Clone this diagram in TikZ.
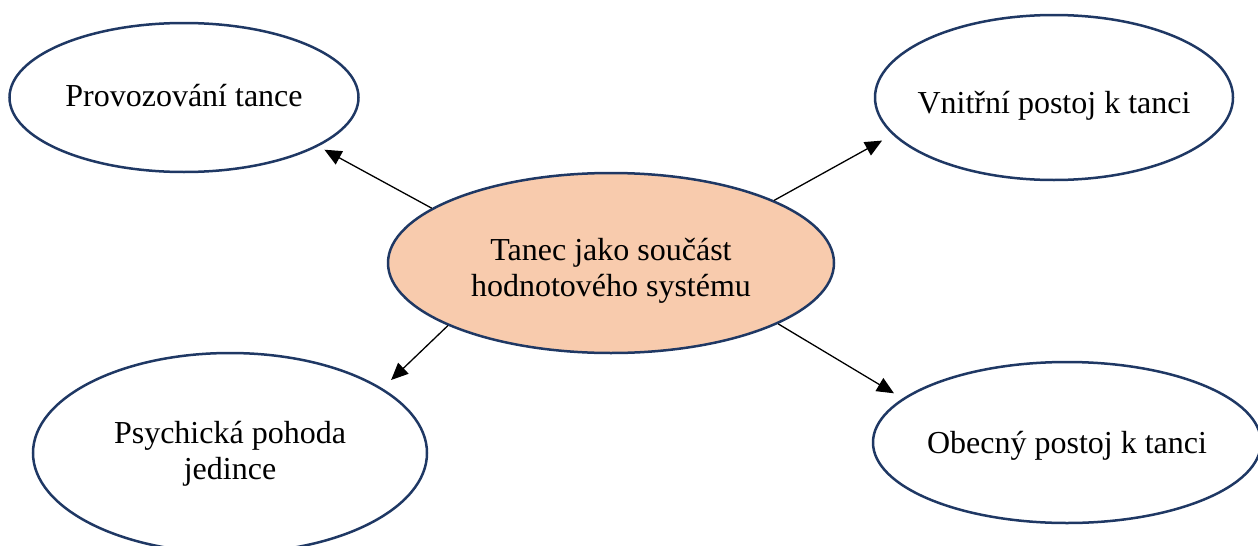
\documentclass[tikz,border=0pt]{standalone}
\usepackage{fontspec}
\setmainfont{Liberation Serif}
\usetikzlibrary{shapes.geometric,arrows.meta}
\definecolor{navy}{HTML}{1F3864}
\definecolor{peach}{HTML}{F8CBAD}
\newcommand{\tx}[2]{\makebox[0pt]{\raisebox{#1}[0pt][0pt]{\begin{tabular}{@{}c@{}}#2\end{tabular}}}}
\begin{document}
\begin{tikzpicture}[x=1pt,y=1pt,
  oval/.style={ellipse, draw=navy, line width=2.5pt, inner sep=0pt,
    font=\fontsize{32pt}{36pt}\selectfont},
  arr/.style={draw=black, line width=1.3pt, -{Triangle[length=17pt,width=15pt]}}]
\useasboundingbox (0,0) rectangle (1258,-546);
\node[oval, fill=peach, minimum width=446pt, minimum height=180pt] (c) at (611,-263) {\tx{-14.8pt}{Tanec jako součást\\hodnotového systému}};
\node[oval, fill=white, minimum width=349pt, minimum height=149pt] (tl) at (184,-97.5) {\tx{-8.3pt}{Provozování tance}};
\node[oval, fill=white, minimum width=358pt, minimum height=165pt] (tr) at (1054,-97.5) {\tx{-15.3pt}{Vnitřní postoj k tanci}};
\node[oval, fill=white, minimum width=394pt, minimum height=200pt] (bl) at (230,-453) {\tx{-7.8pt}{Psychická pohoda\\jedince}};
\node[oval, fill=white, minimum width=388pt, minimum height=161pt] (br) at (1067,-442.5) {\tx{-10.3pt}{Obecný postoj k tanci}};
\draw[arr, shorten >=7pt] (c.163.7) -- (tl.-20.1);
\draw[arr, shorten >=12pt] (c.21) -- (tr.193.3);
\draw[arr, shorten >=12pt] (c.201.3) -- (bl.23.9);
\draw[arr, shorten >=10pt] (c.-20.1) -- (br.165.7);
\end{tikzpicture}
\end{document}
